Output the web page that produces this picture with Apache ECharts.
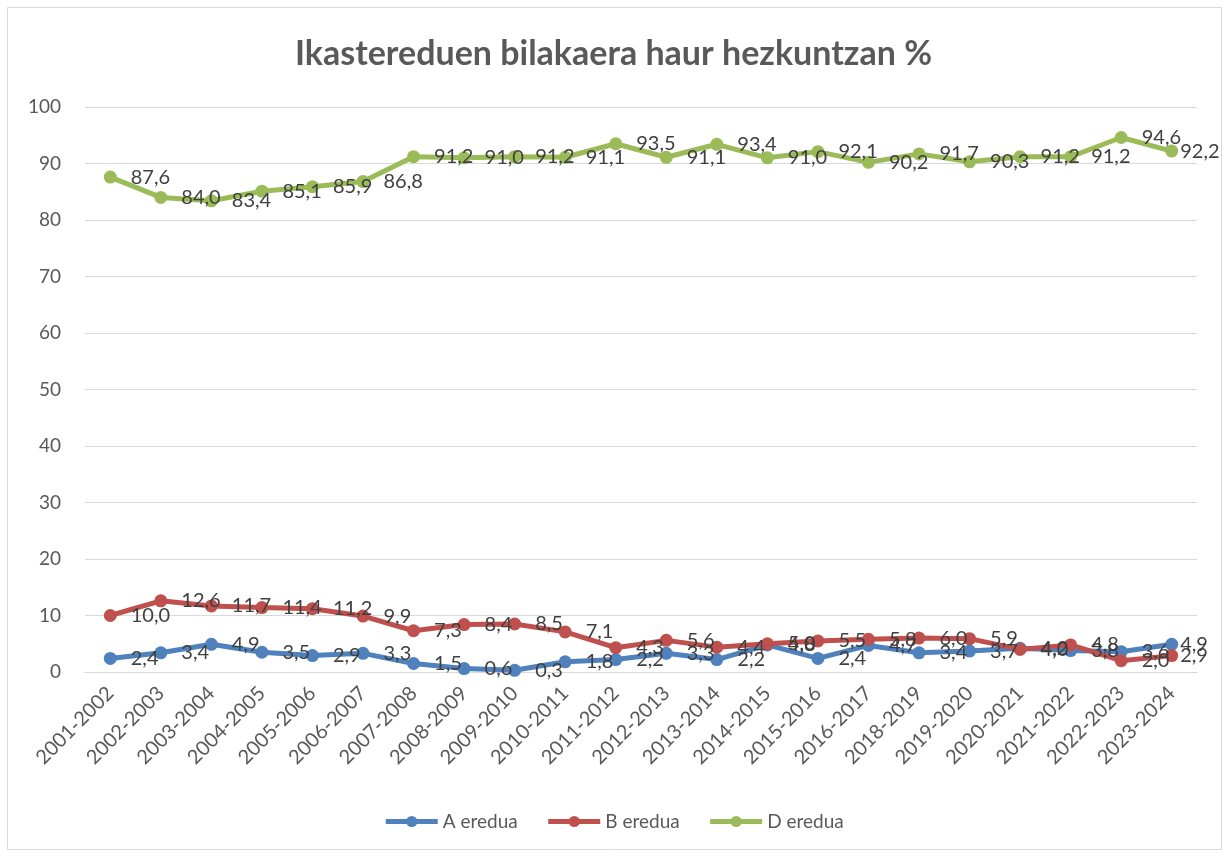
<!DOCTYPE html>
<html>
<head>
<meta charset="utf-8">
<script src="https://cdn.jsdelivr.net/npm/echarts@6/dist/echarts.min.js"></script>
<style>
  html, body { margin: 0; padding: 0; background: #fff; }
  #chart { width: 1227px; height: 858px; }
</style>
</head>
<body>
<div id="chart"></div>
<script>
// ikasturteak (2017-2018 ez dago)
var categories = ['2001-2002', '2002-2003', '2003-2004', '2004-2005', '2005-2006', '2006-2007',
  '2007-2008', '2008-2009', '2009-2010', '2010-2011', '2011-2012', '2012-2013', '2013-2014',
  '2014-2015', '2015-2016', '2016-2017', '2018-2019', '2019-2020', '2020-2021', '2021-2022',
  '2022-2023', '2023-2024']

var aEredua = [2.4, 3.4, 4.9, 3.5, 2.9, 3.3, 1.5, 0.6, 0.3, 1.8, 2.2, 3.3, 2.2, 4.8, 2.4, 4.7,
  3.4, 3.7, 4.2, 3.8, 3.6, 4.9]
var bEredua = [10.0, 12.6, 11.7, 11.4, 11.2, 9.9, 7.3, 8.4, 8.5, 7.1, 4.3, 5.6, 4.4, 5.0, 5.5, 5.8,
  6.0, 5.9, 4.0, 4.8, 2.0, 2.9]
var dEredua = [87.6, 84.0, 83.4, 85.1, 85.9, 86.8, 91.2, 91.0, 91.2, 91.1, 93.5, 91.1, 93.4, 91.0,
  92.1, 90.2, 91.7, 90.3, 91.2, 91.2, 94.6, 92.2]

var yTicks = { min: 0, max: 100, interval: 10 }

var font = 'Lato, "Open Sans", sans-serif'
var textColor = '#595959'

function makeSeries(name, data, color) {
  // azken etiketa barrurago, ertzean ez mozteko
  var items = data.map(function (v, i) {
    if (i === data.length - 1) return { value: v, label: { distance: 2 } }
    return v
  })
  return {
    name: name,
    type: 'line',
    data: items,
    symbol: 'circle',
    symbolSize: 13,
    lineStyle: { width: 5, color: color },
    itemStyle: { color: color },
    label: {
      show: true,
      position: 'right',
      distance: 14,
      fontFamily: font,
      fontSize: 20,
      color: '#404040',
      formatter: function (p) { return p.value.toFixed(1).replace('.', ',') }
    },
    emphasis: { disabled: true }
  }
}

var chart = echarts.init(document.getElementById('chart'))
chart.setOption({
  animation: false,
  title: {
    text: 'Ikastereduen bilakaera haur hezkuntzan %',
    left: 'center',
    top: 32,
    textStyle: { fontFamily: font, fontSize: 34, fontWeight: 'bold', color: textColor }
  },
  legend: {
    bottom: 22,
    left: 'center',
    itemWidth: 52,
    itemHeight: 14,
    itemGap: 28,
    lineStyle: { width: 5 },
    textStyle: { fontFamily: font, fontSize: 19, color: textColor },
    data: ['A eredua', 'B eredua', 'D eredua']
  },
  graphic: [{
    type: 'rect',
    shape: { x: 7.5, y: 7.5, width: 1214, height: 842 },
    style: { fill: 'none', stroke: '#d9d9d9', lineWidth: 1 },
    silent: true
  }],
  grid: { left: 85, right: 30, top: 107, bottom: 186 },
  xAxis: {
    type: 'category',
    data: categories,
    boundaryGap: true,
    axisLine: { lineStyle: { color: '#d9d9d9' } },
    axisTick: { show: false },
    axisLabel: { rotate: 45, fontFamily: font, fontSize: 20, color: textColor, margin: 18, interval: 0 }
  },
  yAxis: {
    type: 'value',
    min: yTicks.min,
    max: yTicks.max,
    interval: yTicks.interval,
    axisLine: { show: false },
    axisTick: { show: false },
    splitLine: { lineStyle: { color: '#d9d9d9', width: 1 } },
    axisLabel: { fontFamily: font, fontSize: 19, color: textColor, margin: 24 }
  },
  series: [
    makeSeries('A eredua', aEredua, '#4f81bd'),
    makeSeries('B eredua', bEredua, '#c0504d'),
    makeSeries('D eredua', dEredua, '#9bbb59')
  ]
})
</script>
</body>
</html>
